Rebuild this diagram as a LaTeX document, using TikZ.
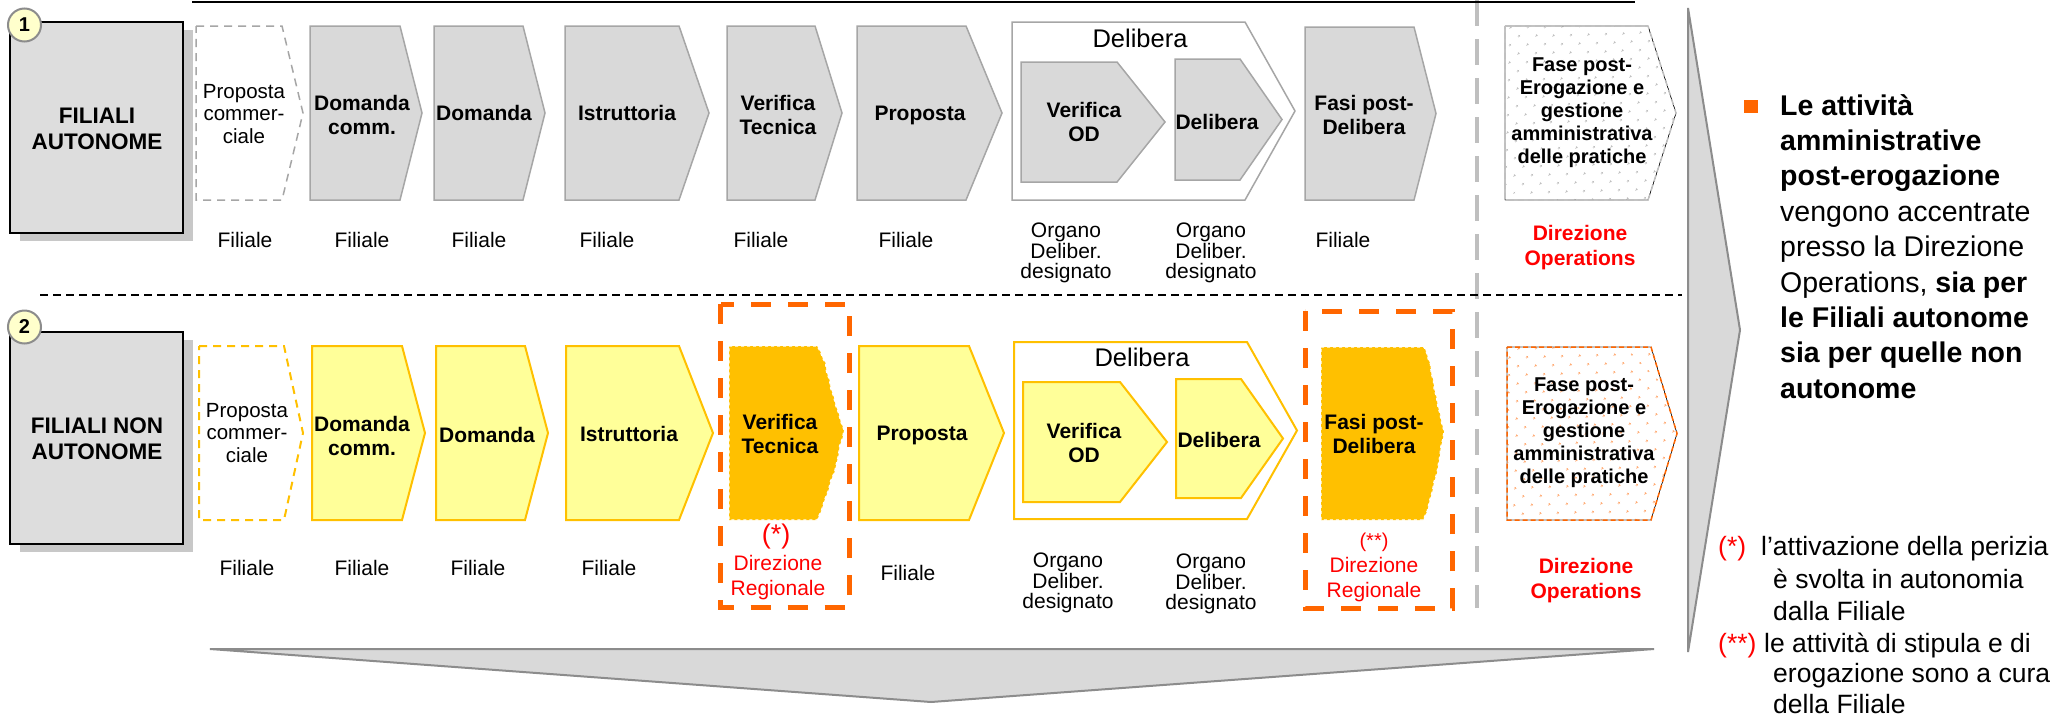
\documentclass[tikz,border=0pt]{standalone}
\usepackage{fontspec}
\setmainfont{Liberation Sans}
\usetikzlibrary{patterns.meta}
\definecolor{gbfill}{HTML}{D9D9D9}
\definecolor{gbline}{HTML}{A6A6A6}
\definecolor{bigfill}{HTML}{DDDDDD}
\definecolor{shadowc}{HTML}{C8C8C8}
\definecolor{ybfill}{HTML}{FFFF99}
\definecolor{ybline}{HTML}{FFC000}
\definecolor{orfill}{HTML}{FFC000}
\definecolor{orline}{HTML}{FF6600}
\definecolor{redt}{HTML}{FF0000}
\definecolor{circfill}{HTML}{FFFFCC}
\definecolor{arrowfill}{HTML}{D9D9D9}
\definecolor{arrowline}{HTML}{8C8C8C}
\definecolor{vdash}{HTML}{BFBFBF}
\newcommand\fs[2]{\fontsize{#1}{#2}\selectfont}
% chevron: [style]{left}{top-right x}{tip x}{top y}{bottom y}
\newcommand\chev[6][]{\draw[#1] (#2,#5) -- (#3,#5) -- (#4,{(#5+#6)/2}) -- (#3,#6) -- (#2,#6) -- cycle;}
\tikzset{
  graybox/.style={fill=gbfill, draw=gbline, line width=1.5pt},
  yelbox/.style={fill=ybfill, draw=ybline, line width=2pt},
  btxt/.style={inner sep=0pt, align=center, font=\bfseries\fs{21}{24}},
  rtxt/.style={inner sep=0pt, align=center, font=\fs{20.5}{22.5}},
  lbl/.style={inner sep=0pt, align=center, font=\fs{21}{20.5}},
  redlbl/.style={inner sep=0pt, align=center, text=redt, font=\fs{21}{25}},
  opslbl/.style={inner sep=0pt, align=center, text=redt, font=\bfseries\fs{21}{25}},
  fpetxt/.style={inner sep=0pt, align=center, font=\bfseries\fs{20}{23}},
  deltitle/.style={inner sep=0pt, font=\fs{25.5}{25.5}},
  bigtitle/.style={inner sep=0pt, align=center, font=\bfseries\fs{22.5}{26}},
  numcirc/.style={circle, draw=arrowline, line width=2pt, fill=circfill, minimum size=33pt, inner sep=0pt, font=\bfseries\fs{20}{20}},
  orbox/.style={draw=orline, line width=5pt, dash pattern=on 20pt off 17pt},
  torn/.style={fill=orfill, draw=white, line width=1.2pt, dash pattern=on 3pt off 3pt},
  foot/.style={inner sep=0pt, anchor=base west, font=\fs{26.5}{32}},
}
\begin{document}
\begin{tikzpicture}[x=1pt, y=-1pt, line join=miter]
\useasboundingbox (0,0) rectangle (2055,718);
\fill[white] (0,0) rectangle (2055,718);

% ---------- frame lines ----------
\draw[vdash, line width=4.5pt, dash pattern=on 26pt off 13pt] (1477,0) -- (1477,608);
\draw[black, line width=2.5pt] (192,2) -- (1635,2);
\draw[black, line width=1.5pt, dash pattern=on 8pt off 5pt] (40,295) -- (1682,295);

% ---------- big arrows ----------
\draw[fill=arrowfill, draw=arrowline, line width=2pt] (1688,8) -- (1740,330) -- (1688,652) -- cycle;
\draw[fill=arrowfill, draw=arrowline, line width=2pt] (210,649) -- (1654,649) -- (931,702) -- cycle;

% ---------- left title boxes ----------
\fill[shadowc] (20,30) rectangle (193,241);
\draw[fill=bigfill, draw=black, line width=2.5pt] (10,22) rectangle (183,233);
\node[bigtitle] (title1) at (97,129) {FILIALI\\AUTONOME};
\node[numcirc] (c1) at (24.5,25) {1};

\fill[shadowc] (20,340) rectangle (193,552);
\draw[fill=bigfill, draw=black, line width=2.5pt] (10,332) rectangle (183,544);
\node[bigtitle] (title2) at (97,439) {FILIALI NON\\AUTONOME};
\node[numcirc] (c2) at (24.5,327) {2};

% ================= ROW 1 =================
\chev[fill=white, draw=gbline, line width=1.5pt, dash pattern=on 8pt off 6pt]{196}{282}{303}{26}{200}
\chev[graybox]{310}{400}{422}{26}{200}
\chev[graybox]{434}{523}{545}{26}{200}
\chev[graybox]{565}{679}{709}{26}{200}
\chev[graybox]{727}{815}{842}{26}{200}
\chev[graybox]{857}{966}{1002}{26}{200}
\chev[fill=white, draw=gbline, line width=1.5pt]{1012}{1245}{1295}{22}{200}
\chev[graybox]{1021}{1117}{1165}{62}{182}
\chev[graybox]{1175}{1240}{1282}{59}{180}
\chev[graybox]{1305}{1414}{1436}{27}{200}
\chev[fill=white]{1505}{1648}{1676}{26}{200}
\chev[pattern={Dots[distance=13pt, radius=1.3pt, angle=45]}, pattern color=vdash]{1505}{1648}{1676}{26}{200}
\chev[draw=vdash, line width=1.5pt, dash pattern=on 6pt off 4pt]{1505}{1648}{1676}{26}{200}

\node[rtxt] (r1pc) at (244,114) {Proposta\\commer-\\ciale};
\node[btxt] (r1dc) at (362,115) {Domanda\\comm.};
\node[btxt] (r1d) at (484,113) {Domanda};
\node[btxt] (r1i) at (627,113) {Istruttoria};
\node[btxt] (r1vt) at (778,115) {Verifica\\Tecnica};
\node[btxt] (r1p) at (920,115) {Proposta};
\node[deltitle] (r1delt) at (1140,38) {Delibera};
\node[btxt] (r1vod) at (1084,122) {Verifica\\OD};
\node[btxt] (r1del) at (1217,122) {Delibera};
\node[btxt] (r1fpd) at (1364,115) {Fasi post-\\Delibera};
\node[fpetxt] (r1fpe) at (1582,113) {Fase post-\\Erogazione e\\gestione\\amministrativa\\delle pratiche};

\node[lbl] (l1a) at (245,240) {Filiale};
\node[lbl] (l1b) at (362,240) {Filiale};
\node[lbl] (l1c) at (479,240) {Filiale};
\node[lbl] (l1d) at (607,240) {Filiale};
\node[lbl] (l1e) at (761,240) {Filiale};
\node[lbl] (l1f) at (906,240) {Filiale};
\node[lbl] (l1g) at (1066,253) {Organo\\Deliber.\\designato};
\node[lbl] (l1h) at (1211,253) {Organo\\Deliber.\\designato};
\node[lbl] (l1i) at (1343,240) {Filiale};
\node[opslbl] (l1j) at (1580,248) {Direzione\\Operations};

% ================= ROW 2 =================
\chev[fill=white, draw=ybline, line width=2pt, dash pattern=on 8pt off 6pt]{199}{284}{303}{346}{520}
\chev[yelbox]{312}{402}{425}{346}{520}
\chev[yelbox]{436}{525}{548}{346}{520}
\chev[yelbox]{566}{679}{713}{346}{520}
% Verifica Tecnica (torn shape)
\draw[orbox] (720.5,304) rectangle (849.5,607);
\draw[torn]
  (729,346) -- (817,346) -- (820.5,352) -- (822.5,358) -- (825.5,363) -- (826.5,372) -- (829.5,380) -- (830.5,388)
  -- (833.5,396) -- (835.5,405) -- (838.5,413) -- (840.5,421) -- (844,430) -- (842.5,438) -- (839.5,446) -- (838.5,455)
  -- (836.5,463) -- (834.5,472) -- (830.5,481) -- (828.5,490) -- (824.5,500) -- (821.5,510) -- (817,520) -- (729,520) -- cycle;
\chev[yelbox]{859}{969}{1004}{346}{520}
\chev[fill=white, draw=ybline, line width=2pt]{1014}{1247}{1297}{342}{519}
\chev[yelbox]{1023}{1120}{1167}{382}{502}
\chev[yelbox]{1176}{1241}{1283}{379}{498}
% Fasi post-Delibera (torn shape)
\draw[orbox] (1305,311) rectangle (1452,608);
\draw[torn]
  (1321,347) -- (1424,347) -- (1426.7,353) -- (1428.1,359) -- (1430.4,364) -- (1431.1,373) -- (1433.4,381) -- (1434.1,389)
  -- (1436.4,397) -- (1437.7,406) -- (1440,414) -- (1441.3,422) -- (1444,431) -- (1442.8,439) -- (1440.7,447) -- (1439.8,456)
  -- (1438.3,464) -- (1436.9,473) -- (1433.9,482) -- (1432.4,491) -- (1429.4,501) -- (1427.2,511) -- (1423,520) -- (1321,520) -- cycle;
\chev[fill=white]{1507}{1651}{1677}{347}{520}
\chev[pattern={Dots[distance=13pt, radius=1.3pt, angle=45]}, pattern color=orline!60]{1507}{1651}{1677}{347}{520}
\chev[draw=orline, line width=1.5pt, dash pattern=on 5pt off 3pt]{1507}{1651}{1677}{347}{520}

\node[rtxt] (r2pc) at (247,433) {Proposta\\commer-\\ciale};
\node[btxt] (r2dc) at (362,436) {Domanda\\comm.};
\node[btxt] (r2d) at (487,435) {Domanda};
\node[btxt] (r2i) at (629,434) {Istruttoria};
\node[btxt] (r2vt) at (780,434) {Verifica\\Tecnica};
\node[btxt] (r2p) at (922,435) {Proposta};
\node[deltitle] (r2delt) at (1142,357) {Delibera};
\node[btxt] (r2vod) at (1084,443) {Verifica\\OD};
\node[btxt] (r2del) at (1219,440) {Delibera};
\node[btxt] (r2fpd) at (1374,434) {Fasi post-\\Delibera};
\node[fpetxt] (r2fpe) at (1584,433) {Fase post-\\Erogazione e\\gestione\\amministrativa\\delle pratiche};

\node[lbl] (l2a) at (247,568) {Filiale};
\node[lbl] (l2b) at (362,568) {Filiale};
\node[lbl] (l2c) at (478,568) {Filiale};
\node[lbl] (l2d) at (609,568) {Filiale};
\node[inner sep=0pt, text=redt, font=\fs{27}{27}] (l2star) at (776,537) {(*)};
\node[redlbl] (l2e) at (778,578) {Direzione\\Regionale};
\node[lbl] (l2f) at (908,573) {Filiale};
\node[lbl] (l2g) at (1068,583) {Organo\\Deliber.\\designato};
\node[lbl] (l2h) at (1211,584) {Organo\\Deliber.\\designato};
\node[inner sep=0pt, text=redt, font=\fs{20}{20}] (l2star2) at (1374,542) {(**)};
\node[redlbl] (l2i) at (1374,580) {Direzione\\Regionale};
\node[opslbl] (l2j) at (1586,581) {Direzione\\Operations};

% ================= RIGHT TEXT =================
\fill[orline] (1744,100) rectangle (1758,113);
\node[anchor=north west, inner sep=0pt, align=left, font=\fs{28.5}{35.4}] (rtext) at (1780,94)
  {\textbf{Le attività}\\\textbf{amministrative}\\\textbf{post-erogazione}\\vengono accentrate\\presso la Direzione\\Operations, \textbf{sia per}\\\textbf{le Filiali autonome}\\\textbf{sia per quelle non}\\\textbf{autonome}};

\node[foot, text=redt] (f1m) at (1718,555) {(*)};
\node[foot] (f1a) at (1761,555) {l’attivazione della perizia};
\node[foot] (f1b) at (1773,588) {è svolta in autonomia};
\node[foot] (f1c) at (1773,620) {dalla Filiale};
\node[foot, text=redt] (f2m) at (1718,652) {(**)};
\node[foot] (f2a) at (1764,652) {le attività di stipula e di};
\node[foot] (f2b) at (1773,682) {erogazione sono a cura};
\node[foot] (f2c) at (1773,713) {della Filiale};
\end{tikzpicture}
\end{document}
